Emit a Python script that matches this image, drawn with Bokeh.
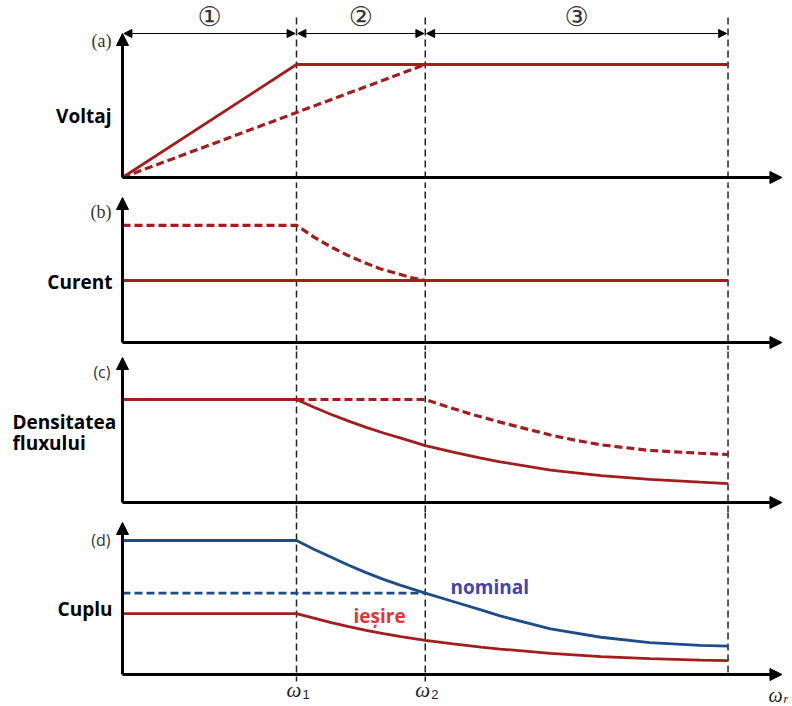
from bokeh.plotting import figure
from bokeh.layouts import column
from bokeh.models import Range1d, Arrow, NormalHead, Label
from bokeh.embed import file_html
from bokeh.resources import INLINE

# ---------------- data (ω normalised to ω1 = 1) ----------------
W1, W2, W3 = 1.0, 1.74, 3.48
W_END = 3.79
zone_labels = ["\u2460", "\u2461", "\u2462"]
zone_starts = [0.0, W1, W2]
zone_ends = [W1, W2, W3]

# (a) voltage
volt_solid_w = [0.0, W1, W3]
volt_solid_v = [0.0, 1.0, 1.0]
volt_dash_w = [0.0, W2]
volt_dash_v = [0.0, 1.0]

# (b) current
cur_solid_w = [0.0, W3]
cur_solid_v = [1.0, 1.0]
cur_dash_w = [0.0, 1.0, 1.10, 1.20, 1.29, 1.39, 1.48, 1.58, 1.67, 1.74]
cur_dash_v = [1.89, 1.89, 1.70, 1.54, 1.41, 1.29, 1.19, 1.11, 1.04, 1.0]

# (c) flux density
flux_solid_w = [0.0, 1.0, 1.1, 1.2, 1.3, 1.4, 1.5, 1.6, 1.74, 1.9, 2.06, 2.17,
                2.46, 2.75, 3.03, 3.32, 3.48]
flux_solid_v = [1.0, 1.0, 0.925, 0.855, 0.79, 0.73, 0.675, 0.625, 0.553, 0.49, 0.43, 0.395,
                0.315, 0.26, 0.224, 0.197, 0.184]
flux_dash_w = [1.0, 1.74, 1.88, 2.0, 2.17, 2.46, 2.6, 2.75, 3.03, 3.32, 3.48]
flux_dash_v = [1.0, 1.0, 0.922, 0.86, 0.78, 0.655, 0.605, 0.56, 0.505, 0.478, 0.466]

# (d) torque
tq_max_w = [0.0, 1.0, 1.1, 1.2, 1.3, 1.4, 1.5, 1.6, 1.74, 1.9, 2.06, 2.17,
            2.46, 2.75, 3.03, 3.32, 3.48]
tq_max_v = [1.0, 1.0, 0.935, 0.875, 0.815, 0.76, 0.71, 0.665, 0.607, 0.545, 0.482, 0.437,
            0.34, 0.278, 0.238, 0.218, 0.212]
tq_nom_w = [0.0, 1.74]
tq_nom_v = [0.607, 0.607]
tq_out_w = [0.0, 1.0, 1.1, 1.2, 1.3, 1.4, 1.5, 1.6, 1.74, 1.9, 2.06, 2.17,
            2.46, 2.75, 3.03, 3.32, 3.48]
tq_out_v = [0.455, 0.455, 0.42, 0.387, 0.357, 0.33, 0.305, 0.283, 0.255, 0.228, 0.205, 0.19,
            0.158, 0.134, 0.118, 0.108, 0.104]

tick_w = [W1, W2]
tick_subs = ["1", "2"]

# ---------------- layout / style ----------------
RED = "#a31d1d"
BLUE = "#1d4c8a"
FIG_W = 792
PX0, PXU = 122.0, 174.0  # pixel of ω=0 and pixels per unit
panels = {
    # top px, bottom px, baseline px, px per unit
    "a": (0, 188, 177, 113.0),
    "b": (188, 350, 342, 62.0),
    "c": (350, 512, 502, 103.0),
    "d": (512, 706, 674, 134.0),
}


def yv(key, ypx):
    top, bot, base, unit = panels[key]
    return (base - ypx) / unit


def xv(xpx):
    return (xpx - PX0) / PXU


def make_panel(key):
    top, bot, base, unit = panels[key]
    p = figure(width=FIG_W, height=bot - top, output_backend="svg",
               toolbar_location=None, x_axis_type=None, y_axis_type=None,
               x_range=Range1d(xv(0), xv(792)),
               y_range=Range1d((base - bot) / unit, (base - top) / unit),
               min_border=0, min_border_left=0, min_border_right=0,
               min_border_top=0, min_border_bottom=0)
    p.grid.visible = False
    p.outline_line_color = None
    p.background_fill_color = "white"
    p.border_fill_color = "white"
    return p


def axes(p, key, ytop_px):
    p.add_layout(Arrow(end=NormalHead(size=12, fill_color="black", line_color="black"),
                       x_start=0, y_start=0, x_end=0, y_end=yv(key, ytop_px),
                       line_width=3, line_color="black"))
    p.add_layout(Arrow(end=NormalHead(size=12, fill_color="black", line_color="black"),
                       x_start=0, y_start=0, x_end=W_END, y_end=0,
                       line_width=3, line_color="black"))


def vlines(p, y0, y1, y1_last=None):
    for w in [W1, W2, W3]:
        end = y1_last if (y1_last is not None and w == W3) else y1
        p.line([w, w], [y0, end], line_color="#222222", line_width=1.5, line_dash="7 4")


def side_label(p, key, text, ypx, xpx=111, align="right", size="19px", font="Open Sans",
               style="bold", color="black"):
    p.add_layout(Label(x=xv(xpx), y=yv(key, ypx), text=text, text_align=align,
                       text_baseline="middle", text_font=font, text_font_size=size,
                       text_font_style=style, text_color=color))


# ---- (a)
pa = make_panel("a")
vlines(pa, yv("a", 17), yv("a", 200))
axes(pa, "a", 33)
pa.line(volt_solid_w, volt_solid_v, line_color=RED, line_width=2.8)
pa.line(volt_dash_w, volt_dash_v, line_color=RED, line_width=3.2, line_dash="8 4")
for lab, s, e in zip(zone_labels, zone_starts, zone_ends):
    pa.add_layout(Arrow(start=NormalHead(size=8, fill_color="black", line_color="black"),
                        end=NormalHead(size=8, fill_color="black", line_color="black"),
                        x_start=s + 0.008, y_start=yv("a", 33), x_end=e - 0.008, y_end=yv("a", 33),
                        line_width=1, line_color="black"))
    pa.add_layout(Label(x=(s + e) / 2, y=yv("a", 16), text=lab, text_align="center",
                        text_baseline="middle", text_font="DejaVu Sans",
                        text_font_size="27px", text_color="#333333"))
side_label(pa, "a", "(a)", 40, xpx=111, font="Liberation Serif", size="18px",
           style="normal", color="#333333")
side_label(pa, "a", "Voltaj", 115)

# ---- (b)
pb = make_panel("b")
vlines(pb, yv("b", 180), yv("b", 360))
axes(pb, "b", 197)
pb.line(cur_solid_w, cur_solid_v, line_color=RED, line_width=2.8)
pb.line(cur_dash_w, cur_dash_v, line_color=RED, line_width=3.2, line_dash="8 4")
side_label(pb, "b", "(b)", 211, xpx=111, font="Liberation Serif", size="18px",
           style="normal", color="#333333")
side_label(pb, "b", "Curent", 281, xpx=112)

# ---- (c)
pc = make_panel("c")
vlines(pc, yv("c", 340), yv("c", 520))
axes(pc, "c", 357)
pc.line(flux_solid_w, flux_solid_v, line_color=RED, line_width=2.8)
pc.line(flux_dash_w, flux_dash_v, line_color=RED, line_width=3.2, line_dash="8 4")
side_label(pc, "c", "(c)", 371, xpx=110, size="16px", style="normal", color="#333333")
side_label(pc, "c", "Densitatea", 421, xpx=12, align="left")
side_label(pc, "c", "fluxului", 442, xpx=12, align="left")

# ---- (d)
pd = make_panel("d")
vlines(pd, yv("d", 500), yv("d", 681), yv("d", 673))
axes(pd, "d", 522)
pd.line(tq_nom_w, tq_nom_v, line_color=BLUE, line_width=2.8, line_dash="8 4")
pd.line(tq_max_w, tq_max_v, line_color=BLUE, line_width=2.8)
pd.line(tq_out_w, tq_out_v, line_color=RED, line_width=2.8)
side_label(pd, "d", "(d)", 539, xpx=110, size="16px", style="normal", color="#333333")
side_label(pd, "d", "Cuplu", 608, xpx=112)
side_label(pd, "d", "nominal", 586, xpx=450, align="left", color="#4444aa")
side_label(pd, "d", "ie\u0219ire", 615, xpx=353, align="left", color="#e0353a")
for w, sub in zip(tick_w, tick_subs):
    pd.add_layout(Label(x=w - 0.015, y=yv("d", 689), text="\u03c9", text_align="center",
                        text_baseline="middle", text_font="Liberation Serif",
                        text_font_size="21px", text_font_style="italic", text_color="#222222"))
    pd.add_layout(Label(x=w + 0.055, y=yv("d", 694), text=sub, text_align="center",
                        text_baseline="middle", text_font="Liberation Sans",
                        text_font_size="13px", text_color="#222222"))
pd.add_layout(Label(x=xv(775), y=yv("d", 694), text="\u03c9", text_align="center",
                    text_baseline="middle", text_font="Liberation Serif",
                    text_font_size="20px", text_font_style="italic", text_color="#222222"))
pd.add_layout(Label(x=xv(783), y=yv("d", 698), text="r", text_align="left",
                    text_baseline="middle", text_font="Liberation Serif",
                    text_font_size="12px", text_font_style="italic", text_color="#222222"))

layout = column(pa, pb, pc, pd, spacing=0)
open("out.html", "w").write(file_html(layout, INLINE))
